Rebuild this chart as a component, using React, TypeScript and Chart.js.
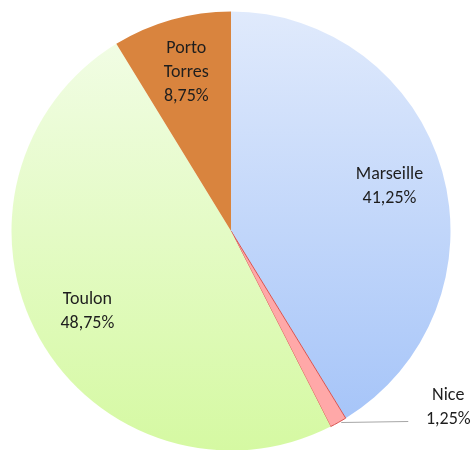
import React, { useEffect, useRef } from "react";
import { Chart, registerables } from "chart.js";

Chart.register(...registerables);

const cities = ["Marseille", "Nice", "Toulon", "Porto Torres"];
const shares = [41.25, 1.25, 48.75, 8.75];
const labelLines: string[][] = [["Marseille"], ["Nice"], ["Toulon"], ["Porto", "Torres"]];

const FONT = '18px "Carlito", "Lato", "Noto Sans", sans-serif';

function fmt(v: number) {
  return v.toFixed(2).replace(".", ",") + "%";
}

const labelPlugin = {
  id: "sliceLabels",
  afterDatasetsDraw(chart: any) {
    const ctx = chart.ctx;
    const meta = chart.getDatasetMeta(0);
    ctx.save();
    ctx.font = FONT;
    ctx.fillStyle = "#1e1e1e";
    ctx.textAlign = "center";
    ctx.textBaseline = "middle";
    meta.data.forEach((arc: any, i: number) => {
      const { x, y, startAngle, endAngle, outerRadius } = arc.getProps(
        ["x", "y", "startAngle", "endAngle", "outerRadius"],
        true
      );
      const mid = (startAngle + endAngle) / 2;
      const lines = [...labelLines[i], fmt(shares[i])];
      if (shares[i] < 3) {
        const ex = x + Math.cos(mid) * outerRadius;
        const ey = y + Math.sin(mid) * outerRadius;
        ctx.strokeStyle = "#a6a6a6";
        ctx.lineWidth = 1;
        ctx.beginPath();
        ctx.moveTo(ex + 3, ey);
        ctx.lineTo(ex + 70, ey - 1);
        ctx.stroke();
        const tx = ex + 110;
        lines.forEach((l, k) => {
          ctx.fillText(l, tx, ey - 27 + k * 24);
        });
      } else {
        const r = outerRadius * 0.75;
        const cx = x + Math.cos(mid) * r;
        const cy = y + Math.sin(mid) * r;
        const h = 24;
        const y0 = cy - ((lines.length - 1) * h) / 2;
        lines.forEach((l, k) => ctx.fillText(l, cx, y0 + k * h));
      }
    });
    ctx.restore();
  },
};

function gradientFor(chart: any, top: string, bottom: string) {
  const area = chart.chartArea;
  if (!area) return bottom;
  const g = chart.ctx.createLinearGradient(0, area.top, 0, area.bottom);
  g.addColorStop(0, top);
  g.addColorStop(1, bottom);
  return g;
}

export default function App() {
  const ref = useRef<HTMLCanvasElement>(null);
  useEffect(() => {
    if (!ref.current) return;
    const chart = new Chart(ref.current, {
      type: "pie",
      data: {
        labels: cities,
        datasets: [
          {
            data: shares,
            backgroundColor: (c: any) => {
              const i = c.dataIndex;
              if (i === 0) return gradientFor(c.chart, "#e0eafc", "#a2c2f8");
              if (i === 1) return "#ffa8a8";
              if (i === 2) return gradientFor(c.chart, "#f3fde9", "#d5f9a2");
              return "#d9843e";
            },
            borderColor: ["rgba(0,0,0,0)", "#d9534f", "rgba(0,0,0,0)", "#d9843e"],
            borderWidth: [0, 1, 0, 0],
          },
        ],
      },
      options: {
        responsive: false,
        animation: false,
        rotation: 0,
        layout: { padding: { left: 11, top: 11, right: 21, bottom: 1 } },
        plugins: {
          legend: { display: false },
          tooltip: { enabled: false },
        },
      },
      plugins: [labelPlugin],
    });
    return () => chart.destroy();
  }, []);
  return (
    <div
      style={{
        position: "fixed",
        left: 0,
        top: 0,
        width: 472,
        height: 452,
        overflow: "hidden",
        background: "#fff",
      }}
    >
      <canvas ref={ref} width={472} height={452} style={{ display: "block" }} />
    </div>
  );
}
